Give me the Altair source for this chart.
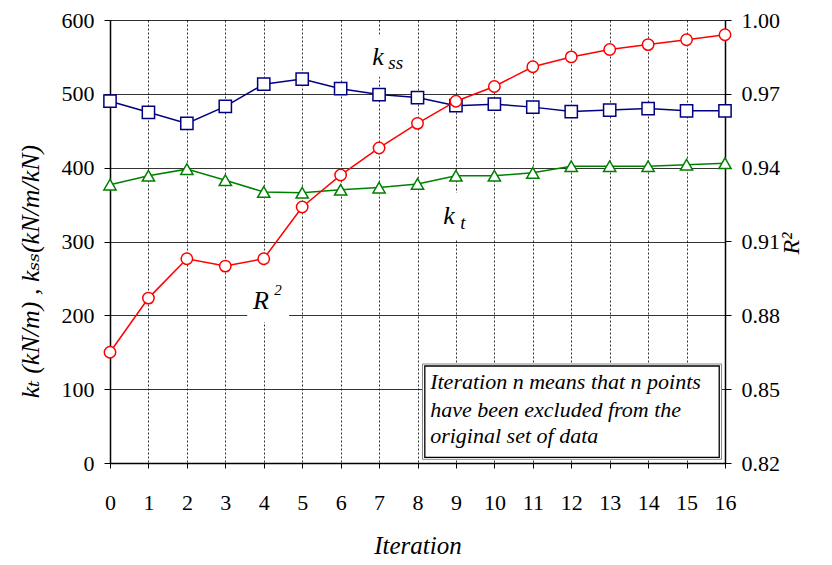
import altair as alt
import pandas as pd

iterations = list(range(17))
kss = [490, 475, 460, 483, 513, 520, 507, 499, 495, 484, 486, 482, 476, 478, 480, 477, 477]
kt = [377, 389, 398, 383, 367, 366, 370, 373, 378, 389, 389, 393, 402, 402, 402, 404, 406]
r2 = [0.865, 0.887, 0.903, 0.900, 0.903, 0.924, 0.937, 0.948, 0.958, 0.967, 0.973,
      0.981, 0.985, 0.988, 0.990, 0.992, 0.994]

left_ticks = [0, 100, 200, 300, 400, 500, 600]
right_ticks = [0.82, 0.85, 0.88, 0.91, 0.94, 0.97, 1.00]

note_lines = ["Iteration n means that n points", "have been excluded from the", "original set of data"]

FONT = "'Liberation Serif', 'Times New Roman', 'DejaVu Serif', serif"

df = pd.DataFrame({"x": iterations, "kss": kss, "kt": kt, "r2": r2})

xscale = alt.Scale(domain=[0, 16], nice=False, zero=False)
yscale = alt.Scale(domain=[0, 600], nice=False)
rscale = alt.Scale(domain=[0.82, 1.0], nice=False, zero=False)

xaxis = alt.Axis(values=iterations, grid=True, gridDash=[2, 2], gridColor="#333333",
                 gridWidth=1, tickSize=5, tickColor="black", domainColor="black",
                 domainWidth=1.5, labelPadding=24, labelFont=FONT, labelFontSize=22,
                 labelFlush=False, labelOverlap=False, labelBound=False,
                 labelColor="black", title="Iteration", titleFont=FONT,
                 titleFontStyle="italic", titleFontWeight="normal", titleFontSize=25,
                 titleColor="black", titleY=90, titleBaseline="alphabetic")
yaxis = alt.Axis(values=left_ticks, grid=True, gridColor="black", gridWidth=0.8,
                 tickSize=6, tickColor="black", domainColor="black", domainWidth=1.5,
                 labelPadding=10, labelFont=FONT, labelFontSize=22, labelColor="black",
                 labelFlush=False, labelOverlap=False,
                 title="kₜ (kN/m) , kₛₛ(kN/m/kN)", titleFont=FONT, titleFontStyle="italic",
                 titleFontWeight="normal", titleFontSize=26, titleColor="black",
                 titleX=-80, titleY=251, titleAlign="center", titleBaseline="middle",
                 titleAngle=270)
raxis = alt.Axis(values=right_ticks, format=".2f", grid=False, orient="right",
                 tickSize=6, tickColor="black", domainColor="black", domainWidth=1.5,
                 labelPadding=10, labelFont=FONT, labelFontSize=22, labelColor="black",
                 labelFlush=False, labelOverlap=False,
                 title="R²", titleFont=FONT, titleFontStyle="italic", titleAngle=270,
                 titleX=66, titleY=223, titleAlign="center", titleBaseline="middle",
                 titleFontWeight="normal", titleFontSize=24, titleColor="black")


def XX(field="x"):
    return alt.X(f"{field}:Q", scale=xscale, axis=xaxis)


def YY(field="y"):
    return alt.Y(f"{field}:Q", scale=yscale, axis=yaxis)


# white background patches behind in-plot labels
bg = pd.DataFrame({
    "x": [6.64, 8.52, 3.57],
    "x2": [7.81, 9.43, 4.66],
    "y": [523, 303, 191],
    "y2": [580, 366, 268],
})
bg_layer = alt.Chart(bg).mark_rect(fill="white", strokeWidth=0).encode(
    x=XX(), x2="x2:Q", y=YY(), y2="y2:Q")

# annotation box (double border)
box = pd.DataFrame({"x": [8.13], "x2": [15.91], "y": [5.0], "y2": [134.1]})
box_outer = alt.Chart(box).mark_rect(fill="white", stroke="#888888", strokeWidth=1).encode(
    x=XX(), x2="x2:Q", y=YY(), y2="y2:Q")
box_in = pd.DataFrame({"x": [8.19], "x2": [15.85], "y": [7.7], "y2": [131.4]})
box_inner = alt.Chart(box_in).mark_rect(fill="white", stroke="black", strokeWidth=1.3).encode(
    x=XX(), x2="x2:Q", y=YY(), y2="y2:Q")

note = pd.DataFrame({"x": [8.33] * 3, "y": [99.9, 61.9, 26.7], "t": note_lines})
note_layer = alt.Chart(note).mark_text(font=FONT, fontStyle="italic", fontSize=22,
                                       align="left", baseline="alphabetic", color="black").encode(
    x=XX(), y=YY(), text="t:N")


def series(field, color, shape, size):
    base = alt.Chart(df).encode(x=XX(), y=YY(field))
    return base.mark_line(color=color, strokeWidth=1.5) + base.mark_point(
        shape=shape, size=size, filled=True, fill="white", stroke=color, strokeWidth=1.5,
        opacity=1)


kss_layer = series("kss", "#000080", "square", 150)
kt_layer = series("kt", "#008000", "triangle-up", 150)

# in-plot labels: main letters and sub/superscripts
lab_big = pd.DataFrame({"x": [6.82, 8.67, 3.72], "y": [539, 323.8, 208.7], "t": ["k", "k", "R"]})
lab_small = pd.DataFrame({"x": [7.24, 9.11, 4.27], "y": [534, 317, 227.6], "t": ["ss", "t", "2"],
                          "fs": [19, 19, 15]})
big_layer = alt.Chart(lab_big).mark_text(font=FONT, fontStyle="italic", fontSize=26,
                                         align="left", baseline="alphabetic", color="black").encode(
    x=XX(), y=YY(), text="t:N")
small_layer = alt.Chart(lab_small).mark_text(font=FONT, fontStyle="italic",
                                             align="left", baseline="alphabetic", color="black").encode(
    x=XX(), y=YY(), text="t:N", size=alt.Size("fs:Q", scale=None, legend=None))

left = alt.layer(bg_layer, box_outer, box_inner, note_layer, kss_layer, kt_layer,
                 big_layer, small_layer)

rbase = alt.Chart(df).encode(x=XX(), y=alt.Y("r2:Q", scale=rscale, axis=raxis))
right = rbase.mark_line(color="#FF0000", strokeWidth=1.5) + rbase.mark_point(
    shape="circle", size=130, filled=True, fill="white", stroke="#FF0000", strokeWidth=1.5, opacity=1)

chart = alt.layer(left, right).resolve_scale(y="independent").properties(
    width=615, height=443,
    autosize=alt.AutoSizeParams(type="none"),
    padding={"left": 102, "top": 12, "right": 99, "bottom": 94},
).configure_view(stroke="black", strokeWidth=1.5).configure(background="white")

chart.save("out.html", embed_options={"renderer": "svg", "actions": False})
